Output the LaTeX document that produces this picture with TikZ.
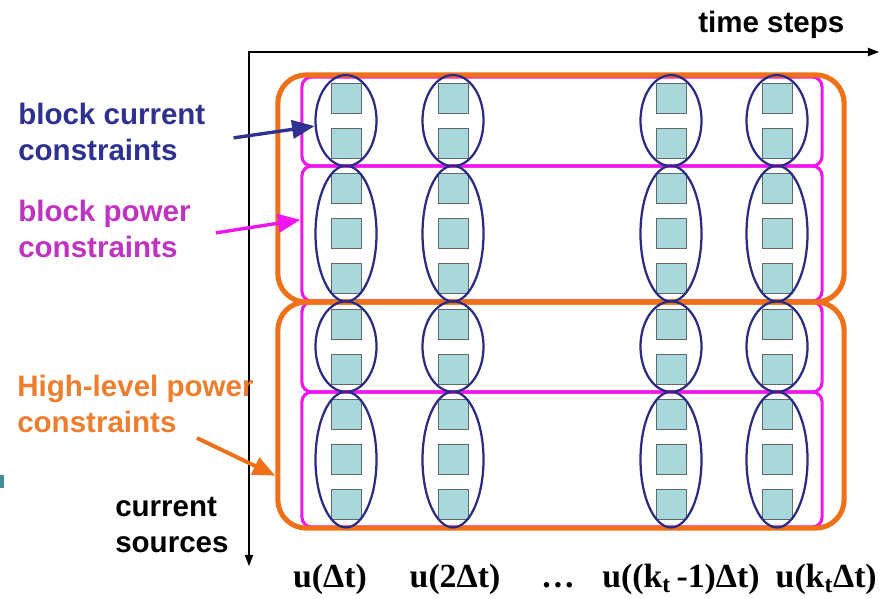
\documentclass[tikz,border=0pt]{standalone}
\usepackage{fontspec}
\setmainfont{Liberation Serif}
\setsansfont{Liberation Sans}
\usepackage{tikz}
\usetikzlibrary{arrows.meta,shapes.geometric}

\definecolor{navy}{RGB}{42,44,132}
\definecolor{bluetext}{RGB}{46,49,146}
\definecolor{magtext}{RGB}{192,50,192}
\definecolor{magline}{RGB}{240,20,240}
\definecolor{orgline}{RGB}{240,112,24}
\definecolor{orgtext}{RGB}{238,125,45}
\definecolor{sqfill}{RGB}{168,216,220}
\definecolor{sqedge}{RGB}{95,105,105}
\definecolor{tealmark}{RGB}{70,140,150}

\begin{document}
\begin{tikzpicture}[x=0.025cm, y=-0.025cm,
  sq/.style={draw=sqedge, fill=sqfill, line width=0.6pt, minimum size=0.75cm, inner sep=0pt},
  cur/.style={ellipse, draw=navy, line width=1.6pt, minimum width=1.525cm, inner sep=0pt},
  pw/.style={draw=magline, line width=2.2pt, rounded corners=7pt, minimum width=13cm, inner sep=0pt},
  hl/.style={draw=orgline, line width=3.6pt, rounded corners=20pt, minimum width=14.15cm, inner sep=0pt},
  lbl/.style={font=\sffamily\bfseries\fontsize{21}{25}\selectfont, align=left, inner sep=0pt, anchor=base west},
  ulbl/.style={font=\rmfamily\bfseries\fontsize{24}{28}\selectfont, inner sep=0pt, anchor=base},
  arr/.style={-{Triangle[length=16pt,width=13pt]}, line width=2.4pt},
]
\useasboundingbox (0,0) rectangle (880,598);

% axes
\coordinate (orig) at (249,52);
\coordinate (xend) at (879,52);
\coordinate (yend) at (249,566);
\draw[{Triangle[length=8pt,width=6pt]}-{Triangle[length=8pt,width=6pt]}, line width=1pt] (yend) -- (orig) -- (xend);

% block power constraints
\node[pw, minimum height=2.225cm] (pw1) at (562,121.5) {};
\node[pw, minimum height=3.375cm] (pw2) at (562,233.5) {};
\node[pw, minimum height=2.25cm] (pw3) at (562,347) {};
\node[pw, minimum height=3.375cm] (pw4) at (562,459.5) {};

% high-level power constraints
\node[hl, minimum height=5.675cm] (hl1) at (561,188.5) {};
\node[hl, minimum height=5.65cm] (hl2) at (561,415) {};

% current sources, grouped per block
\foreach \cx [count=\c] in {346,453,671,777} {
  \foreach \k in {0,...,9}
    \node[sq] (s\c-\k) at (\cx,{98+45.2*\k}) {};
  \foreach \cy/\h [count=\r] in {120.6/2.275cm, 233.6/3.39cm, 346.6/2.26cm, 459.6/3.39cm}
    \node[cur, minimum height=\h] (e\c-\r) at (\cx,\cy) {};
}

% labels (base = last line)
\node[lbl] (ts) at (698,32) {time steps};
\node[lbl, text=bluetext] (bc) at (18,160) {block current\\constraints};
\node[lbl, text=magtext] (bp) at (18,257) {block power\\constraints};
\node[lbl, text=orgtext] (hp) at (17,432) {High-level power\\constraints};
\node[lbl] (cs) at (115,552) {current\\sources};

% time steps
\node[ulbl] (u1) at (330,587) {u(Δt)};
\node[ulbl] (u2) at (455,587) {u(2Δt)};
\node[ulbl] (dots) at (558,587) {…};
\node[ulbl] (u3) at (681,587) {u((k\textsubscript{t}\,-1)Δt)};
\node[ulbl, anchor=base east] (u4) at (877,587) {u(k\textsubscript{t}Δt)};

% pointers
\coordinate (hp-tail) at (197,438);
\draw[arr, bluetext] ([xshift=0.7cm, yshift=-0.15cm]bc.east) -- (e1-1.190);
\draw[arr, magline] ([xshift=0.625cm, yshift=-0.1cm]bp.east) -- (pw2.177);
\draw[arr, orgline, line width=2.8pt] (hp-tail) -- (hl2.192);

\fill[tealmark] (0,475) rectangle (4,488);
\end{tikzpicture}
\end{document}
